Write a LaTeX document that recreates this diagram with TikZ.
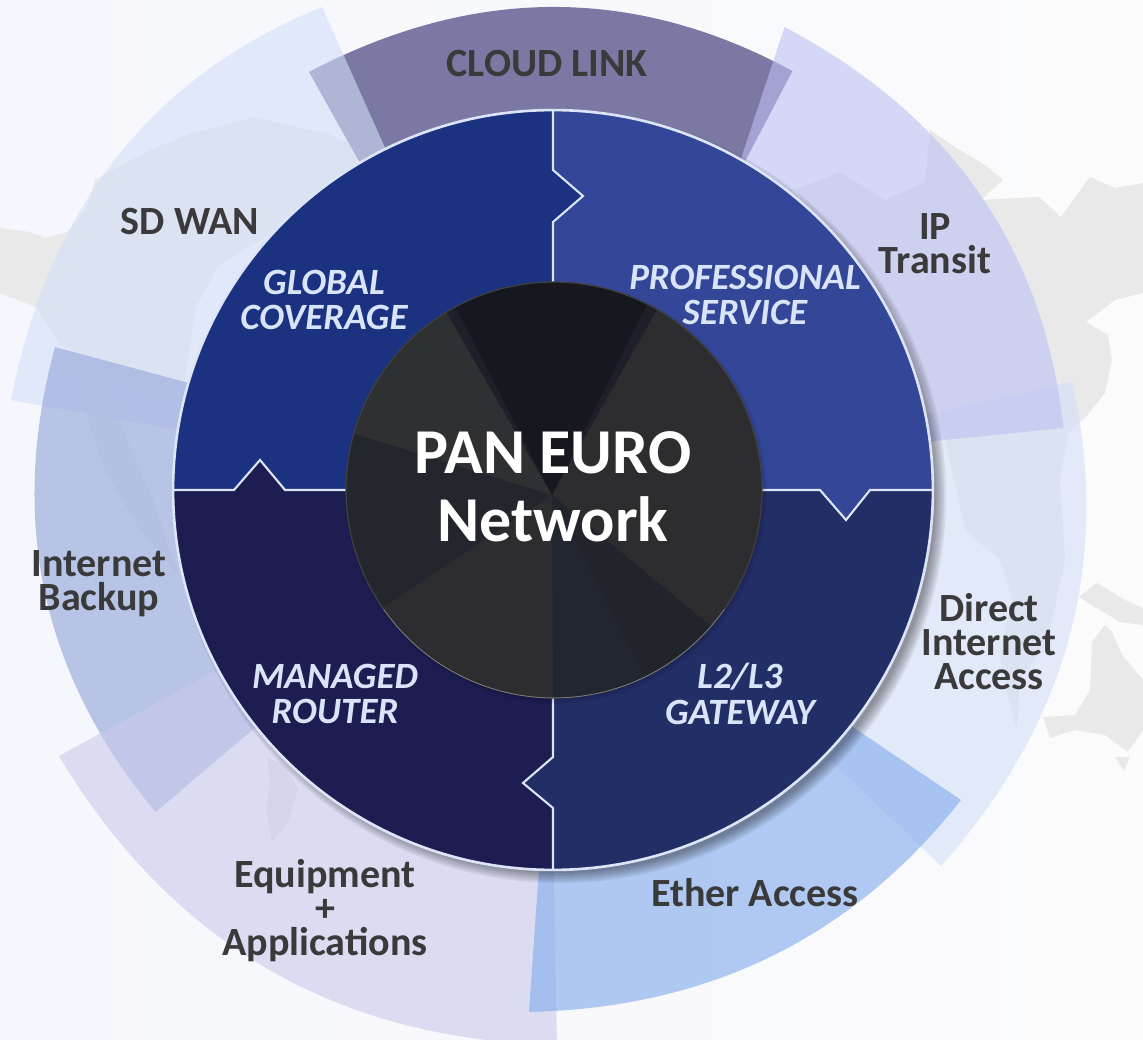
\documentclass[tikz,border=0pt]{standalone}
\usepackage{fontspec}
\setmainfont{Carlito}
\usetikzlibrary{calc}
\definecolor{bgL}{HTML}{F6F7FC}
\definecolor{bgR}{HTML}{FBFBFC}
\definecolor{land}{HTML}{E9E9E9}
\definecolor{cCloud}{RGB}{110,108,154}
\definecolor{cSD}{RGB}{211,222,247}
\definecolor{cIP}{RGB}{188,192,243}
\definecolor{cBack}{RGB}{158,175,222}
\definecolor{cEquip}{RGB}{201,201,235}
\definecolor{cEther}{RGB}{136,175,237}
\definecolor{qGlobal}{HTML}{1B3281}
\definecolor{qPro}{HTML}{334697}
\definecolor{qGate}{HTML}{222F67}
\definecolor{qMan}{HTML}{1D1D52}
\definecolor{rim}{HTML}{DCE5F7}
\definecolor{txtD}{HTML}{3A3A3A}
\definecolor{txtL}{HTML}{DAE4F8}
\definecolor{dBase}{HTML}{2D2D30}
\definecolor{dTop}{HTML}{17181F}
\definecolor{dTopEdge}{HTML}{1E1F28}
\definecolor{dUL}{HTML}{2F3032}
\definecolor{dLeft}{HTML}{23262C}
\definecolor{dLow}{HTML}{22262E}
\definecolor{dLowR}{HTML}{21242A}
\newcommand\petal[6]{%
  \coordinate (pQ) at ($2*#3-0.5*#2-0.5*#4$);
  \fill[#1] #2 .. controls ($#2!0.667!(pQ)$) and ($#4!0.667!(pQ)$) .. #4 -- #5 -- #6 -- cycle;
}
\newcommand\coresector[3]{%
  \fill[#1] (apex) -- ($(apex)!1.5!#2$) -- ($(apex)!1.5!#3$) -- cycle;
}
\tikzset{
  x=0.02cm,y=-0.02cm,
  outerlabel/.style={font=\fontsize{22.8}{19.4}\selectfont\bfseries,text=txtD,align=center,inner sep=0pt},
  innerlabel/.style={font=\fontsize{21.1}{20.3}\selectfont\bfseries\itshape,text=txtL,align=center,inner sep=0pt},
  corelabel/.style={font=\fontsize{36.4}{38.7}\selectfont\bfseries,text=white,align=center,inner sep=0pt},
  notchline/.style={draw=rim,line width=1.2pt,line join=miter},
  landmass/.style={fill=land}
}
\begin{document}
\begin{tikzpicture}
\useasboundingbox (0,0) rectangle (1143,1040);
\clip (0,0) rectangle (1143,1040);
\shade[left color=bgL,right color=bgR] (0,0) rectangle (1143,1040);
% world map
\fill[landmass] (0,228) -- (30,232) -- (45,238) -- (68,232) -- (88,205) -- (95,180) -- (109,172) -- (150,150) -- (193,133) -- (225,125) -- (255,117) -- (300,128) -- (327,133) -- (364,150) -- (330,200) -- (260,240) -- (218,267) -- (196,307) -- (185,380) -- (160,400) -- (120,380) -- (85,350) -- (62,347) -- (36,307) -- (0,293) -- cycle;
\fill[landmass] (70,345) -- (87,350) -- (105,380) -- (124,433) -- (153,500) -- (178,575) -- (140,530) -- (105,470) -- (85,410) -- cycle;
\fill[landmass] (268,758) -- (285,765) -- (298,790) -- (288,822) -- (272,842) -- (266,810) -- (270,785) -- cycle;
\fill[landmass] (795,190) -- (840,172) -- (885,200) -- (925,182) -- (930,130) -- (955,147) -- (985,165) -- (1003,180) -- (981,200) -- (1039,197) -- (1061,217) -- (1090,177) -- (1115,188) -- (1143,183) -- (1143,293) -- (1115,300) -- (1086,322) -- (1108,335) -- (1112,360) -- (1105,393) -- (1085,418) -- (1068,433) -- (1060,480) -- (1065,560) -- (1048,640) -- (1020,680) -- (1017,730) -- (1006,690) -- (1000,650) -- (1012,600) -- (1000,560) -- (965,530) -- (945,440) -- (900,320) -- (850,260) -- cycle;
\fill[landmass] (1043,717) -- (1075,715) -- (1090,690) -- (1092,642) -- (1105,625) -- (1112,632) -- (1122,655) -- (1143,680) -- (1143,730) -- (1128,752) -- (1105,735) -- (1075,730) -- (1050,738) -- cycle;
\fill[landmass] (1079,597) -- (1097,583) -- (1125,600) -- (1143,608) -- (1143,625) -- (1120,622) -- (1095,607) -- cycle;
\fill[landmass] (1115,757) -- (1130,757) -- (1124,771) -- cycle;
% outer petals
\petal{cCloud,opacity=.9}{(309,72)}{(553,7)}{(792.5,71)}{(730,190)}{(375,190)}
\petal{cSD,opacity=.6}{(322,7)}{(117,157)}{(11,400)}{(190,432)}{(395,170)}
\petal{cSD,opacity=.6}{(1072.5,382)}{(1069,638)}{(941,866)}{(820,750)}{(915,417)}
\petal{cIP,opacity=.6}{(784.5,27)}{(979,193)}{(1063.5,428)}{(915,443)}{(734,180)}
\petal{cBack,opacity=.7}{(55,347)}{(45,593)}{(155.6,812)}{(270,715)}{(200,386)}
\petal{cEquip,opacity=.6}{(59,756)}{(268,969)}{(557,1045)}{(553,830)}{(235,660)}
\petal{cEther,opacity=.65}{(529,1012)}{(772,956)}{(961,800)}{(835,715)}{(541,840)}
% ring shadow
\foreach \rr in {376,378,...,386}{\fill[black,opacity=.07] (560,497) circle[radius=\rr*0.02cm];}
% quadrants
\fill[qGate] (553,110) arc[start angle=90,end angle=-90,radius=7.6cm] -- cycle;
\fill[qMan] (553,870) arc[start angle=-90,end angle=-180,radius=7.6cm] -- (553,490) -- cycle;
\fill[qPro] (553,490) -- (553,110) arc[start angle=90,end angle=0,radius=7.6cm] -- (870,490) -- (846,520) -- (820,490) -- cycle;
\fill[qGlobal] (553,490) -- (553,222) -- (583,196) -- (553,170) -- (553,110) arc[start angle=90,end angle=180,radius=7.6cm] -- (234,490) -- (260,460) -- (285,490) -- cycle;
\fill[qMan] (234,491) -- (260,460) -- (285,491) -- cycle;
\fill[qGate] (553,870) -- (553,808) -- (523,783) -- (553,757) -- cycle;
% separators and rim
\draw[notchline] (553,110) -- (553,170) -- (583,196) -- (553,222) -- (553,300);
\draw[notchline] (173,490) -- (234,490) -- (260,460) -- (285,490) -- (360,490);
\draw[notchline] (750,490) -- (820,490) -- (846,520) -- (870,490) -- (933,490);
\draw[notchline] (553,680) -- (553,757) -- (523,783) -- (553,808) -- (553,870);
\draw[rim,line width=1.5pt] (553,490) circle[radius=7.6cm];
% core disc
\foreach \rr in {205,207,...,211}{\fill[black,opacity=.05] (556,493) circle[radius=\rr*0.02cm];}
\coordinate (apex) at (552,495);
\begin{scope}
\clip (554,490) circle[radius=4.16cm];
\fill[dBase] (340,280) rectangle (770,700);
\coresector{dUL}{(448,315)}{(358,435)}
\coresector{dLeft}{(358,435)}{(390,603)}
\coresector{dLow}{(553,697)}{(640,668)}
\coresector{dLowR}{(640,668)}{(707,623)}
\coresector{dTopEdge}{(448,315)}{(655,313)}
\coresector{dTop}{(458,312)}{(645,308)}
\end{scope}
\draw[black!75!white,line width=.7pt] (554,490) circle[radius=4.16cm];
\draw[black!45!white,line width=.3pt] (554,490) ++(-145:4.16cm) arc[start angle=-145,end angle=-35,radius=4.16cm];
% labels
\node[outerlabel] (cloud) at (547,64) {CLOUD LINK};
\node[outerlabel] (sdwan) at (190,222) {SD WAN};
\node[outerlabel] (ipt) at (935,244) {IP\\Transit};
\node[outerlabel] (dia) at (989,642) {Direct\\Internet\\Access};
\node[outerlabel] (ether) at (755,893) {Ether Access};
\node[outerlabel] (equip) at (325,911) {Equipment\\+\\Applications};
\node[outerlabel] (backup) at (99,584) {Internet\\Backup};
\node[innerlabel] (global) at (324,300) {GLOBAL\\COVERAGE};
\node[innerlabel] (prof) at (745,295) {PROFESSIONAL\\SERVICE};
\node[innerlabel] (router) at (335,694) {MANAGED\\ROUTER};
\node[innerlabel] (gateway) at (740,694) {L2/L3\\GATEWAY};
\node[corelabel] (core) at (553,487) {PAN EURO\\Network};
\end{tikzpicture}
\end{document}
